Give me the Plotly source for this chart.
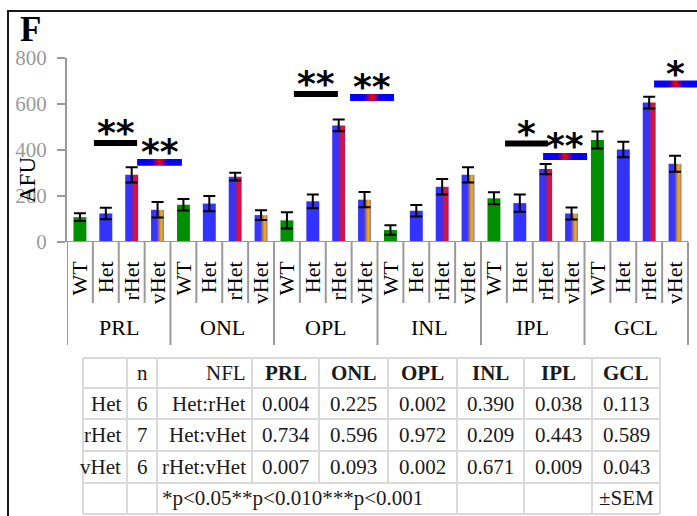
import plotly.graph_objects as go

# ---- data -------------------------------------------------------------
layers = ["PRL", "ONL", "OPL", "INL", "IPL", "GCL"]
genotypes = ["WT", "Het", "rHet", "vHet"]

wt_mean = [108, 162, 94, 52, 190, 443]
het_mean = [124, 167, 177, 136, 169, 402]
rhet_mean = [292, 284, 507, 240, 317, 606]
vhet_mean = [140, 117, 184, 292, 124, 340]

wt_sem = [17, 25, 35, 21, 26, 37]
het_sem = [25, 33, 30, 25, 38, 34]
rhet_sem = [33, 17, 26, 34, 22, 26]
vhet_sem = [34, 21, 33, 33, 26, 35]

# statistics table
row_groups = ["Het", "rHet", "vHet"]
row_n = [6, 7, 6]
comparisons = ["Het:rHet", "Het:vHet", "rHet:vHet"]
p_values = {
    "Het:rHet": [0.004, 0.225, 0.002, 0.390, 0.038, 0.113],
    "Het:vHet": [0.734, 0.596, 0.972, 0.209, 0.443, 0.589],
    "rHet:vHet": [0.007, 0.093, 0.002, 0.671, 0.009, 0.043],
}
footnote = "*p<0.05**p<0.010***p<0.001"
sem_note = "±SEM"

# significance brackets: (layer, comparison, start, end in bar slots, AFU level)
brackets = [
    ("PRL", "Het:rHet", 0.54, 2.21, 430),
    ("PRL", "rHet:vHet", 2.21, 3.94, 346),
    ("OPL", "Het:rHet", 8.27, 9.97, 643),
    ("OPL", "rHet:vHet", 10.44, 12.14, 628),
    ("IPL", "Het:rHet", 16.43, 18.09, 428),
    ("IPL", "rHet:vHet", 17.90, 19.60, 372),
    ("GCL", "rHet:vHet", 22.19, 23.85, 687),
]

# ---- page geometry (pixels) -------------------------------------------
W, H = 697, 516
PL, PR, PT, PB = 67, 697, 58, 242
SLOT = (688 - PL) / 24.0


def px(x):
    return (x - PL) / (PR - PL)


def py(y):
    return (PB - y) / (PB - PT)


SERIF = "Liberation Serif"
GREEN = "#008f00"
BLUE = "#3333ff"
GRAY = "#9a9a9a"
LINE = "#dadada"

grad_r = [[0, BLUE], [0.45, "#3d31f0"], [0.78, "#f70a1c"], [1, "#9a2284"]]
grad_v = [[0, BLUE], [0.45, "#3f38ec"], [0.78, "#ffb000"], [1, "#8c78b4"]]
grad_sig = [[0, "#0000ff"], [0.33, "#1000f4"], [0.5, "#ff0000"],
            [0.67, "#1000f4"], [1, "#0000ff"]]

BAR_W = 0.5

fig = go.Figure()

means = [wt_mean, het_mean, rhet_mean, vhet_mean]
sems = [wt_sem, het_sem, rhet_sem, vhet_sem]

xs_all, ys_all, es_all = [], [], []
for li in range(len(layers)):
    for gi in range(len(genotypes)):
        xs_all.append(li * 4 + gi)
        ys_all.append(means[gi][li])
        es_all.append(sems[gi][li])

# solid bars
for gi, col in [(0, GREEN), (1, BLUE)]:
    fig.add_trace(go.Bar(
        x=[li * 4 + gi for li in range(len(layers))],
        y=means[gi], width=BAR_W, marker=dict(color=col, line=dict(width=0)),
        showlegend=False, hoverinfo="skip"))

# gradient bars
for gi, cs in [(2, grad_r), (3, grad_v)]:
    for li in range(len(layers)):
        xc = li * 4 + gi
        v = means[gi][li]
        x0, x1 = xc - BAR_W / 2, xc + BAR_W / 2
        fig.add_trace(go.Scatter(
            x=[x0, x1, x1, x0, x0], y=[0, 0, v, v, 0], mode="lines",
            line=dict(width=0), fill="toself",
            fillgradient=dict(type="horizontal", colorscale=cs),
            showlegend=False, hoverinfo="skip"))

# error bars
fig.add_trace(go.Scatter(
    x=xs_all, y=ys_all, mode="markers",
    marker=dict(size=1, color="rgba(0,0,0,0)"),
    error_y=dict(type="data", array=es_all, visible=True,
                 color="black", thickness=2, width=6),
    showlegend=False, hoverinfo="skip"))


def stars(p):
    if p < 0.001:
        return "***"
    if p < 0.01:
        return "**"
    if p < 0.05:
        return "*"
    return ""


annotations = []
shapes = []

# significance brackets
for layer, comp, s, e, lvl in brackets:
    li = layers.index(layer)
    label = stars(p_values[comp][li])
    if comp == "Het:rHet":
        th = 26
        fig.add_trace(go.Scatter(
            x=[s, e, e, s, s], y=[lvl - th / 2] * 2 + [lvl + th / 2] * 2 + [lvl - th / 2],
            mode="lines", line=dict(width=0), fill="toself", fillcolor="black",
            showlegend=False, hoverinfo="skip"))
    else:
        th = 30
        fig.add_trace(go.Scatter(
            x=[s, e, e, s, s], y=[lvl - th / 2] * 2 + [lvl + th / 2] * 2 + [lvl - th / 2],
            mode="lines", line=dict(width=0), fill="toself",
            fillgradient=dict(type="horizontal", colorscale=grad_sig),
            showlegend=False, hoverinfo="skip"))
    annotations.append(dict(
        x=(s + e) / 2, y=lvl + th / 2, xref="x", yref="y", text=f"<b>{label}</b>",
        showarrow=False, xanchor="center", yanchor="bottom", yshift=-15,
        font=dict(family="DejaVu Sans", size=36, color="black")))

# x axis baseline
shapes.append(dict(type="line", xref="x", yref="y", x0=-0.5, x1=23.5, y0=0, y1=0,
                   line=dict(color=GRAY, width=2)))

# category dividers under the axis
for k in range(25):
    xb = k - 0.5
    long = (k % 4 == 0)
    shapes.append(dict(type="line", xref="x", yref="paper", x0=xb, x1=xb,
                       y0=0, y1=py(345 if long else 303),
                       line=dict(color=GRAY, width=2)))

# layer names
for li, name in enumerate(layers):
    annotations.append(dict(
        x=li * 4 + 1.5, y=py(327), xref="x", yref="paper", text=name,
        showarrow=False, xanchor="center", yanchor="middle",
        font=dict(family=SERIF, size=22, color="black")))

# axis title and panel letter
annotations.append(dict(
    x=px(27), y=py(180), xref="paper", yref="paper", text="AFU", textangle=-90,
    showarrow=False, xanchor="center", yanchor="middle",
    font=dict(family=SERIF, size=23, color="black")))
annotations.append(dict(
    x=px(18), y=py(29), xref="paper", yref="paper", text="<b>F</b>",
    showarrow=False, xanchor="left", yanchor="middle",
    font=dict(family=SERIF, size=35, color="black")))

# panel frame
shapes.append(dict(type="line", xref="paper", yref="paper",
                   x0=px(8), x1=px(8), y0=py(11), y1=py(520),
                   line=dict(color="#1a1a1a", width=2)))
shapes.append(dict(type="line", xref="paper", yref="paper",
                   x0=px(7), x1=px(700), y0=py(11), y1=py(11),
                   line=dict(color="#1a1a1a", width=2)))

# ---- statistics table -------------------------------------------------
col_px = [83, 127, 157, 252, 319, 388, 457, 524, 592, 660]
row_px = [358, 388, 419, 451, 483, 514]
TF = dict(family=SERIF, size=21, color="#1a1a1a")

for yy in row_px:
    shapes.append(dict(type="line", xref="paper", yref="paper",
                       x0=px(col_px[0]), x1=px(col_px[-1]), y0=py(yy), y1=py(yy),
                       line=dict(color=LINE, width=2)))
for ci, xx in enumerate(col_px):
    bottom = row_px[-1] if ci not in (3, 4, 5) else row_px[-2]
    shapes.append(dict(type="line", xref="paper", yref="paper",
                       x0=px(xx), x1=px(xx), y0=py(row_px[0]), y1=py(bottom),
                       line=dict(color=LINE, width=2)))


def cell_text(text, ci, ri, align="center", bold=False):
    yc = (row_px[ri] + row_px[ri + 1]) / 2
    if align == "center":
        xx, anchor = (col_px[ci] + col_px[ci + 1]) / 2, "center"
    elif align == "right":
        xx, anchor = col_px[ci + 1] - 4, "right"
    else:
        xx, anchor = col_px[ci] + 3, "left"
    annotations.append(dict(
        x=px(xx), y=py(yc), xref="paper", yref="paper",
        text=f"<b>{text}</b>" if bold else text, showarrow=False,
        xanchor=anchor, yanchor="middle", font=TF))


cell_text("n", 1, 0)
cell_text("NFL", 2, 0, "right")
for li, name in enumerate(layers):
    cell_text(name, 3 + li, 0, bold=True)
for ri in range(3):
    cell_text(row_groups[ri], 0, ri + 1, "right")
    cell_text(str(row_n[ri]), 1, ri + 1)
    cell_text(comparisons[ri], 2, ri + 1, "right")
    for li in range(len(layers)):
        cell_text(f"{p_values[comparisons[ri]][li]:.3f}", 3 + li, ri + 1)
cell_text(footnote, 2, 4, "left")
cell_text(sem_note, 8, 4)

fig.update_layout(
    width=W, height=H,
    margin=dict(l=PL, r=W - PR, t=PT, b=H - PB),
    plot_bgcolor="white", paper_bgcolor="white",
    barmode="overlay", showlegend=False,
    xaxis=dict(range=[-0.5, -0.5 + (PR - PL) / SLOT],
               tickmode="array", tickvals=xs_all,
               ticktext=[g for _ in layers for g in genotypes],
               tickangle=-90, ticks="", showline=False, showgrid=False,
               zeroline=False, ticklabelstandoff=14,
               tickfont=dict(family=SERIF, size=22, color="black")),
    yaxis=dict(range=[0, 800], tickvals=[0, 200, 400, 600, 800],
               showline=True, linecolor=GRAY, linewidth=2,
               ticks="outside", ticklen=8, tickwidth=2, tickcolor=GRAY,
               showgrid=False, zeroline=False, ticklabelstandoff=6,
               tickfont=dict(family=SERIF, size=21, color=GRAY)),
    annotations=annotations, shapes=shapes,
)

fig.write_html("out.html")
